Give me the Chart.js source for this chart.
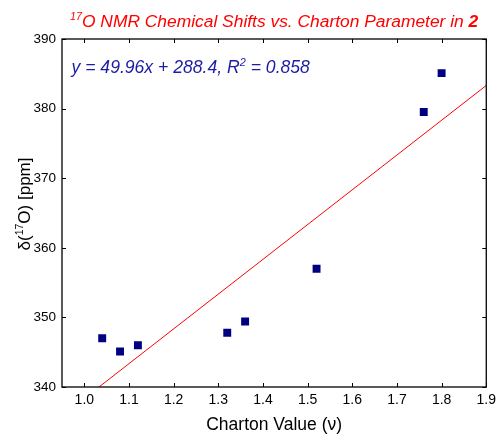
<!DOCTYPE html>
<html lang="en">
<head>
<meta charset="UTF-8">
<title>17O NMR Chemical Shifts vs. Charton Parameter</title>
<script src="https://cdn.jsdelivr.net/npm/chart.js@4.4.3/dist/chart.umd.min.js"></script>
<style>
  html, body { margin: 0; padding: 0; background: #fff; }
  #wrap { width: 501px; height: 434px; position: relative; }
</style>
</head>
<body>
<div id="wrap"><canvas id="chart"></canvas></div>
<script>
// data
const chartonValues = [1.04, 1.08, 1.12, 1.32, 1.36, 1.52, 1.76, 1.80];
const shiftValues   = [347.0, 345.1, 346.0, 347.8, 349.4, 357.0, 379.5, 385.1];
const fitSlope = 49.96;
const fitIntercept = 288.4;
const fitR2 = 0.858;
const xTicks = [1.0, 1.1, 1.2, 1.3, 1.4, 1.5, 1.6, 1.7, 1.8, 1.9];
const yTicks = [340, 350, 360, 370, 380, 390];

const FONT = '"Liberation Sans", Arial, sans-serif';

const points = chartonValues.map((x, i) => ({ x: x, y: shiftValues[i] }));
const yMin = 340, yMax = 390, xMin = 0.95, xMax = 1.9;
const fitLine = [
  { x: (yMin - fitIntercept) / fitSlope, y: yMin },
  { x: xMax, y: fitSlope * xMax + fitIntercept }
];

// draws a run of text pieces, some superscript / bold
function drawRich(ctx, parts, x, y, size, style, color) {
  let cx = x;
  parts.forEach(p => {
    const s = p.sup ? size * 0.62 : size;
    ctx.font = style + ' ' + (p.bold ? 'bold ' : '') + s + 'px ' + FONT;
    ctx.fillStyle = color;
    ctx.fillText(p.text, cx, p.sup ? y - size * 0.4 : y);
    cx += ctx.measureText(p.text).width;
  });
  return cx - x;
}
function richWidth(ctx, parts, size, style) {
  let w = 0;
  parts.forEach(p => {
    const s = p.sup ? size * 0.62 : size;
    ctx.font = style + ' ' + (p.bold ? 'bold ' : '') + s + 'px ' + FONT;
    w += ctx.measureText(p.text).width;
  });
  return w;
}

const decorPlugin = {
  id: 'decor',
  afterDraw(chart) {
    const ctx = chart.ctx;
    const a = chart.chartArea;
    const xs = chart.scales.x, ys = chart.scales.y;
    ctx.save();

    // frame and inward ticks on all sides
    ctx.strokeStyle = '#000';
    ctx.lineWidth = 1.3;
    ctx.strokeRect(a.left, a.top, a.right - a.left, a.bottom - a.top);
    ctx.lineWidth = 1;
    ctx.beginPath();
    xTicks.forEach(v => {
      const px = Math.round(xs.getPixelForValue(v)) + 0.5;
      ctx.moveTo(px, a.bottom); ctx.lineTo(px, a.bottom - 4);
      ctx.moveTo(px, a.top); ctx.lineTo(px, a.top + 4);
    });
    yTicks.forEach(v => {
      const py = Math.round(ys.getPixelForValue(v)) + 0.5;
      ctx.moveTo(a.left, py); ctx.lineTo(a.left + 4, py);
      ctx.moveTo(a.right, py); ctx.lineTo(a.right - 4, py);
    });
    ctx.stroke();

    ctx.textBaseline = 'alphabetic';
    ctx.textAlign = 'left';

    // title
    const title = [
      { text: '17', sup: true },
      { text: 'O NMR Chemical Shifts vs. Charton Parameter in ' },
      { text: '2', bold: true }
    ];
    const tw = richWidth(ctx, title, 17.4, 'italic');
    drawRich(ctx, title, (a.left + a.right) / 2 - tw / 2, 27, 17.4, 'italic', '#ff0000');

    // fit equation
    const eq = [
      { text: 'y = ' + fitSlope.toFixed(2) + 'x + ' + fitIntercept.toFixed(1) + ', R' },
      { text: '2', sup: true },
      { text: ' = ' + fitR2.toFixed(3) }
    ];
    drawRich(ctx, eq, 71.5, 73, 17.6, 'italic', '#1c1ca6');

    // x axis title
    ctx.font = '17.5px ' + FONT;
    ctx.fillStyle = '#000';
    ctx.textAlign = 'center';
    ctx.fillText('Charton Value (\u03bd)', (a.left + a.right) / 2, 430);

    // y axis title
    ctx.save();
    ctx.translate(30, 204);
    ctx.rotate(-Math.PI / 2);
    ctx.textAlign = 'left';
    const yl = [
      { text: '\u03b4(' },
      { text: '17', sup: true },
      { text: 'O) [ppm]' }
    ];
    const yw = richWidth(ctx, yl, 17, 'normal');
    drawRich(ctx, yl, -yw / 2, 0, 17, 'normal', '#000');
    ctx.restore();

    ctx.restore();
  }
};

new Chart(document.getElementById('chart'), {
  type: 'scatter',
  data: {
    datasets: [
      {
        label: 'fit',
        type: 'line',
        data: fitLine,
        borderColor: '#ff0000',
        borderWidth: 1,
        pointRadius: 0,
        fill: false,
        order: 2
      },
      {
        label: 'data',
        data: points,
        pointStyle: 'rect',
        pointRadius: 5.6,
        pointHoverRadius: 5.6,
        backgroundColor: '#000080',
        borderWidth: 0,
        order: 1
      }
    ]
  },
  options: {
    responsive: true,
    maintainAspectRatio: false,
    animation: false,
    layout: { padding: { left: 0, top: 39, right: 9.5, bottom: 0 } },
    plugins: {
      legend: { display: false },
      tooltip: { enabled: false }
    },
    scales: {
      x: {
        type: 'linear',
        min: xMin,
        max: xMax,
        grid: { display: false, drawTicks: false },
        border: { display: false },
        afterBuildTicks: s => { s.ticks = xTicks.map(v => ({ value: v })); },
        afterFit: s => { s.height = 47; },
        ticks: {
          padding: 5,
          color: '#000',
          font: { family: FONT, size: 14 },
          callback: v => Number(v).toFixed(1),
          maxRotation: 0
        }
      },
      y: {
        min: yMin,
        max: yMax,
        grid: { display: false, drawTicks: false },
        border: { display: false },
        afterBuildTicks: s => { s.ticks = yTicks.map(v => ({ value: v })); },
        afterFit: s => { s.width = 62; },
        ticks: {
          padding: 6,
          color: '#000',
          font: { family: FONT, size: 13.5 }
        }
      }
    }
  },
  plugins: [decorPlugin]
});
</script>
</body>
</html>
